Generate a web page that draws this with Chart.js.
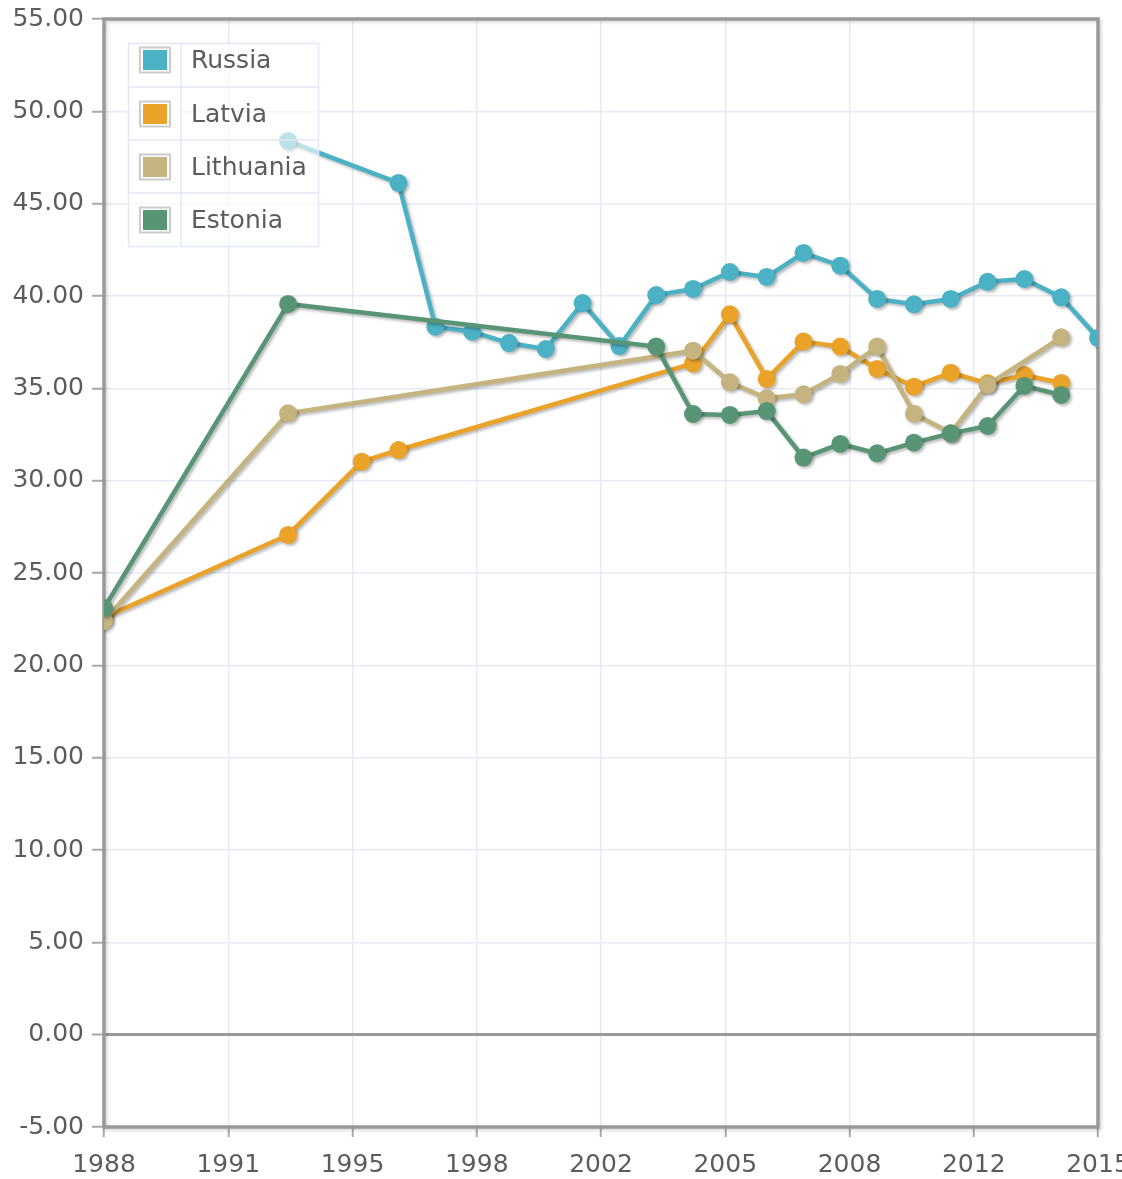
<!DOCTYPE html>
<html>
<head>
<meta charset="utf-8">
<title>Russia / Baltic states</title>
<script src="https://cdn.jsdelivr.net/npm/chart.js@4/dist/chart.umd.min.js"></script>
<style>
    html, body { margin: 0; padding: 0; background: #fff; }
    #chartBox { width: 1122px; height: 1179px; }
</style>
</head>
<body>
<div id="chartBox"><canvas id="lineChart" width="1122" height="1179"></canvas></div>
<script>
// Series data
const russiaYears = [1993, 1996, 1997, 1998, 1999, 2000, 2001, 2002, 2003, 2004, 2005, 2006, 2007, 2008, 2009, 2010, 2011, 2012, 2013, 2014, 2015];
const russiaValues = [48.39, 46.12, 38.34, 38.07, 37.45, 37.13, 39.62, 37.29, 40.05, 40.38, 41.30, 41.03, 42.33, 41.64, 39.84, 39.55, 39.84, 40.77, 40.92, 39.93, 37.73];

const latviaYears = [1988, 1993, 1995, 1996, 2004, 2005, 2006, 2007, 2008, 2009, 2010, 2011, 2012, 2013, 2014];
const latviaValues = [22.59, 27.06, 31.03, 31.66, 36.35, 39.01, 35.51, 37.53, 37.26, 36.05, 35.09, 35.85, 35.27, 35.72, 35.29];

const lithuaniaYears = [1988, 1993, 2004, 2005, 2006, 2007, 2008, 2009, 2010, 2011, 2012, 2014];
const lithuaniaValues = [22.40, 33.65, 37.04, 35.33, 34.46, 34.68, 35.78, 37.26, 33.63, 32.58, 35.18, 37.76];

const estoniaYears = [1988, 1993, 2003, 2004, 2005, 2006, 2007, 2008, 2009, 2010, 2011, 2012, 2013, 2014];
const estoniaValues = [23.10, 39.57, 37.26, 33.61, 33.56, 33.77, 31.25, 31.99, 31.48, 32.06, 32.56, 32.96, 35.13, 34.64];

const seriesNames = ['Russia', 'Latvia', 'Lithuania', 'Estonia'];
const seriesColors = ['#4bb2c5', '#eaa228', '#c5b47f', '#579575'];

// Axis setup
const xMin = 1988;
const xMax = 2015;
const xTickLabels = ['1988', '1991', '1995', '1998', '2002', '2005', '2008', '2012', '2015'];
const yMin = -5;
const yMax = 55;
const yStep = 5;

const gridColor = '#e6eaf5';
const frameColor = '#999999';
const textColor = '#5c5c5c';
const fontFamily = '"DejaVu Sans", Verdana, sans-serif';

function toPoints(years, values) {
    return years.map((year, i) => ({ x: year, y: values[i] }));
}

function makeDataset(index, years, values) {
    const color = seriesColors[index];
    return {
        label: seriesNames[index],
        data: toPoints(years, values),
        borderColor: color,
        backgroundColor: color,
        pointBackgroundColor: color,
        pointBorderColor: color,
        pointBorderWidth: 0,
        pointRadius: 9,
        borderWidth: 4.5,
        tension: 0,
        clip: 0,
        order: seriesNames.length - index
    };
}

// jqPlot-like shadow under each series
const shadowPlugin = {
    id: 'seriesShadow',
    beforeDatasetDraw(chart) {
        const ctx = chart.ctx;
        ctx.save();
        ctx.shadowColor = 'rgba(0, 0, 0, 0.28)';
        ctx.shadowOffsetX = 2;
        ctx.shadowOffsetY = 2;
        ctx.shadowBlur = 3;
    },
    afterDatasetDraw(chart) {
        chart.ctx.restore();
    }
};

// Gray frame around the plot area
const framePlugin = {
    id: 'plotFrame',
    beforeDatasetsDraw(chart) {
        const ctx = chart.ctx;
        const a = chart.chartArea;
        ctx.save();
        ctx.shadowColor = 'rgba(0, 0, 0, 0.15)';
        ctx.shadowOffsetX = 2;
        ctx.shadowOffsetY = 2;
        ctx.shadowBlur = 3;
        ctx.strokeStyle = frameColor;
        ctx.lineWidth = 3.5;
        ctx.strokeRect(a.left, a.top, a.right - a.left, a.bottom - a.top);
        ctx.restore();
    }
};

// Legend box in the top-left corner, drawn over the plot
const legendPlugin = {
    id: 'boxLegend',
    afterDraw(chart) {
        const ctx = chart.ctx;
        const left = 128, right = 318, top = 43, bottom = 246, colX = 181;
        const rowLines = [87, 140, 193];
        const textY = [60, 114, 167, 220];

        ctx.save();
        ctx.fillStyle = 'rgba(255, 255, 255, 0.62)';
        ctx.fillRect(left, top, right - left, bottom - top);

        ctx.strokeStyle = '#e3e8f4';
        ctx.lineWidth = 1.5;
        ctx.strokeRect(left + 0.5, top + 0.5, right - left, bottom - top);
        ctx.beginPath();
        ctx.moveTo(colX, top);
        ctx.lineTo(colX, bottom);
        rowLines.forEach(y => {
            ctx.moveTo(left, y);
            ctx.lineTo(right, y);
        });
        ctx.stroke();

        chart.data.datasets.forEach((ds, i) => {
            const cy = textY[i];
            ctx.strokeStyle = '#cccccc';
            ctx.lineWidth = 2;
            ctx.strokeRect(140, cy - 12.5, 30, 25);
            ctx.fillStyle = ds.borderColor;
            ctx.fillRect(143, cy - 10, 24, 20);

            ctx.fillStyle = textColor;
            ctx.font = '25px ' + fontFamily;
            ctx.textBaseline = 'middle';
            ctx.textAlign = 'left';
            ctx.fillText(ds.label, 191, cy + 1);
        });
        ctx.restore();
    }
};

function buildChart() {
    const ctx = document.getElementById('lineChart');

    new Chart(ctx, {
        type: 'line',
        data: {
            datasets: [
                makeDataset(0, russiaYears, russiaValues),
                makeDataset(1, latviaYears, latviaValues),
                makeDataset(2, lithuaniaYears, lithuaniaValues),
                makeDataset(3, estoniaYears, estoniaValues)
            ]
        },
        options: {
            responsive: false,
            animation: false,
            layout: {
                padding: { top: 19, right: 24, left: 0, bottom: 0 }
            },
            plugins: {
                legend: { display: false },
                tooltip: { enabled: false }
            },
            scales: {
                x: {
                    type: 'linear',
                    min: xMin,
                    max: xMax,
                    border: { display: false },
                    afterBuildTicks: function(scale) {
                        const step = (xMax - xMin) / (xTickLabels.length - 1);
                        scale.ticks = xTickLabels.map((_, i) => ({ value: xMin + i * step }));
                    },
                    afterFit: function(scale) {
                        scale.height = 52;
                        scale.paddingLeft = 0;
                        scale.paddingRight = 0;
                    },
                    grid: {
                        color: gridColor,
                        lineWidth: 1.5,
                        drawTicks: true,
                        tickLength: 10,
                        tickColor: '#a8a8a8',
                        tickWidth: 2
                    },
                    ticks: {
                        autoSkip: false,
                        maxRotation: 0,
                        padding: 13,
                        color: textColor,
                        font: { family: fontFamily, size: 25 },
                        callback: function(value, index) {
                            return xTickLabels[index];
                        }
                    }
                },
                y: {
                    min: yMin,
                    max: yMax,
                    border: { display: false },
                    afterFit: function(scale) {
                        scale.width = 104;
                        scale.paddingTop = 0;
                        scale.paddingBottom = 0;
                    },
                    grid: {
                        color: c => (c.tick && c.tick.value === 0) ? frameColor : gridColor,
                        lineWidth: c => (c.tick && c.tick.value === 0) ? 3 : 1.5,
                        drawTicks: true,
                        tickLength: 12,
                        tickColor: '#a8a8a8',
                        tickWidth: 2
                    },
                    ticks: {
                        stepSize: yStep,
                        padding: 8,
                        color: textColor,
                        font: { family: fontFamily, size: 25 },
                        callback: function(value) {
                            return Number(value).toFixed(2);
                        }
                    }
                }
            }
        },
        plugins: [shadowPlugin, framePlugin, legendPlugin]
    });
}

document.addEventListener('DOMContentLoaded', buildChart);
</script>
</body>
</html>
